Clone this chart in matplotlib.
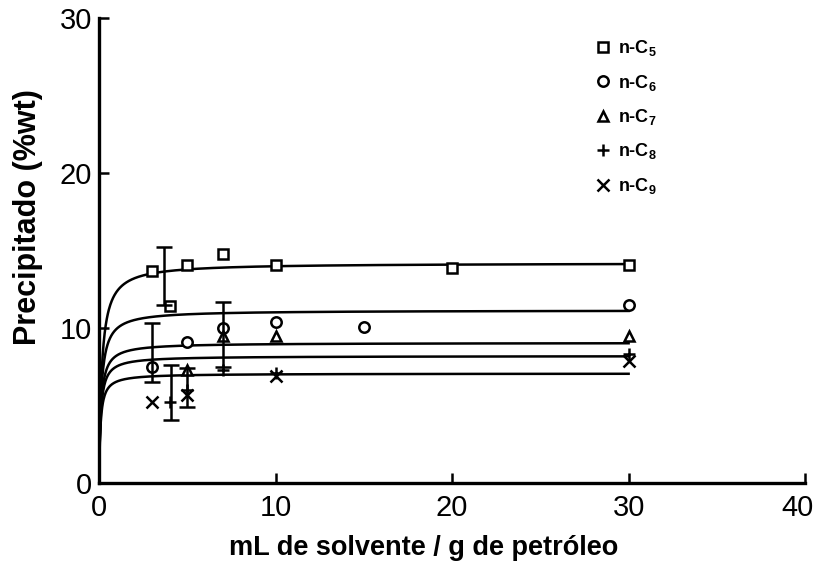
import numpy as np
import matplotlib
matplotlib.use("Agg")
import matplotlib.pyplot as plt
from matplotlib.transforms import ScaledTranslation

plt.rcParams['font.family'] = ['Liberation Sans', 'DejaVu Sans']
plt.rcParams['mathtext.fontset'] = 'custom'
plt.rcParams['mathtext.rm'] = 'Liberation Sans:bold'
plt.rcParams['mathtext.bf'] = 'Liberation Sans:bold'

# Measured points, one pair of arrays per solvent
c5_x = [3, 4, 5, 7, 10, 20, 30]
c5_y = [13.7, 11.4, 14.1, 14.8, 14.1, 13.9, 14.1]
c6_x = [3, 5, 7, 10, 15, 30]
c6_y = [7.5, 9.1, 10.0, 10.4, 10.1, 11.5]
c7_x = [5, 7, 10, 30]
c7_y = [7.3, 9.5, 9.5, 9.5]
c8_x = [4, 5, 7, 10, 30]
c8_y = [5.2, 6.0, 7.3, 7.1, 8.3]
c9_x = [3, 5, 10, 30]
c9_y = [5.2, 5.7, 6.9, 7.9]

# Error bars: position, lower and upper limits
err_x = [3.0, 3.7, 4.1, 5.0, 7.0]
err_lo = [6.5, 11.5, 4.1, 4.9, 7.5]
err_hi = [10.3, 15.2, 7.6, 7.4, 11.7]

# Saturation fits y = A * x / (k + x) for each solvent
fit_A = [14.2, 11.15, 9.05, 8.2, 7.07]
fit_k = [0.15, 0.12, 0.10, 0.09, 0.08]

labels = [r'n-C$_{5}$', r'n-C$_{6}$', r'n-C$_{7}$', r'n-C$_{8}$', r'n-C$_{9}$']
markers = ['s', 'o', '^', '+', 'x']

fig = plt.figure(figsize=(8.23, 5.65), dpi=100)
ax = fig.add_axes([0.1203, 0.145, 0.858, 0.823])

xs = np.linspace(0, 30, 1500)
for A, k in zip(fit_A, fit_k):
    ax.plot(xs, A * xs / (k + xs), color='black', lw=1.8, zorder=2)

series = [(c5_x, c5_y), (c6_x, c6_y), (c7_x, c7_y), (c8_x, c8_y), (c9_x, c9_y)]
for (x, y), m, lab in zip(series, markers, labels):
    ax.plot(x, y, linestyle='none', marker=m, markersize=7.5 if m in 'so^' else 9,
            markerfacecolor='white', markeredgecolor='black', markeredgewidth=1.8,
            label=lab, zorder=3)

err_lo_a = np.array(err_lo)
err_hi_a = np.array(err_hi)
mid = (err_lo_a + err_hi_a) / 2
half = (err_hi_a - err_lo_a) / 2
ax.errorbar(err_x, mid, yerr=half, fmt='none', ecolor='black', elinewidth=1.8,
            capsize=6, capthick=1.8, zorder=4)

ax.set_xlim(0, 40)
ax.set_ylim(0, 30)
ax.set_xticks([0, 10, 20, 30, 40])
ax.set_yticks([0, 10, 20, 30])
for s in ['top', 'right']:
    ax.spines[s].set_visible(False)
for s in ['left', 'bottom']:
    ax.spines[s].set_linewidth(2.4)
ax.tick_params(direction='in', length=7, width=1.8, labelsize=21)
ax.tick_params(axis='x', pad=8)
ax.tick_params(axis='y', pad=5)

# keep the last x tick label inside the figure
last = ax.get_xticklabels()[-1]
last.set_transform(last.get_transform() + ScaledTranslation(-8 / 100, 0, fig.dpi_scale_trans))

ax.set_xlabel('mL de solvente / g de petróleo', fontsize=19.5, fontweight='bold',
              va='center')
ax.xaxis.set_label_coords(0.46, -0.14)
ax.set_ylabel('Precipitado (%wt)', fontsize=22, fontweight='bold', va='center')
ax.yaxis.set_label_coords(-0.101, 0.572)

leg = ax.legend(loc='upper left', bbox_to_anchor=(0.701, 0.957), frameon=False,
                fontsize=13, handletextpad=0.35, labelspacing=0.8,
                handlelength=1.0, borderaxespad=0.0, borderpad=0.0)
for t in leg.get_texts():
    t.set_fontweight('bold')

fig.savefig('out.png', dpi=100)
